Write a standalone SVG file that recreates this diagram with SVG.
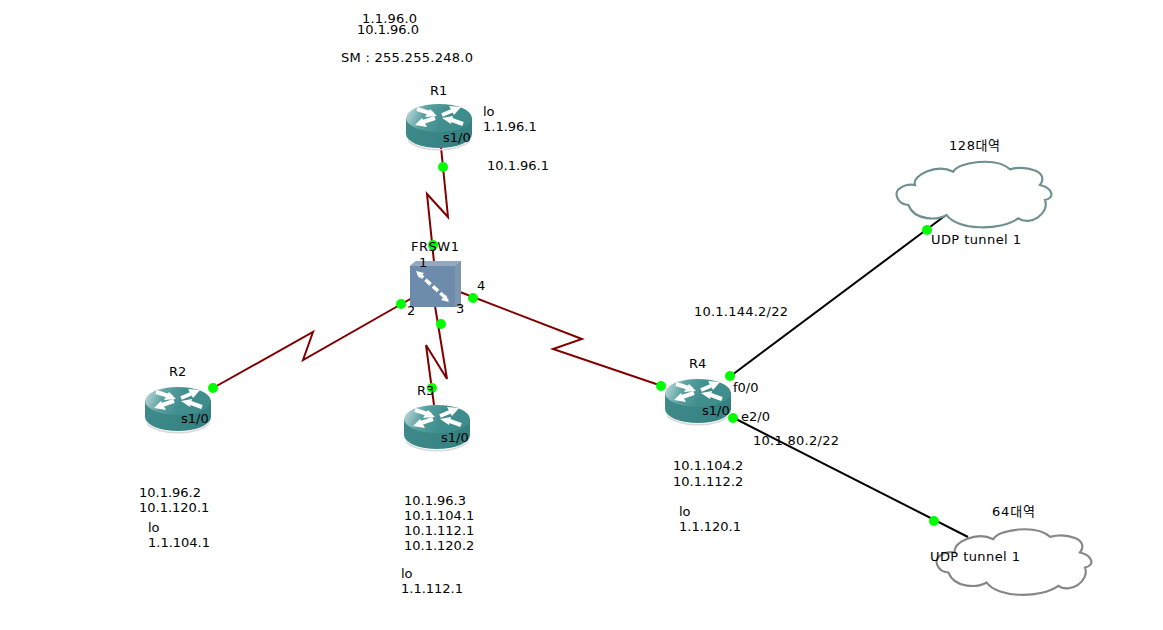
<svg xmlns="http://www.w3.org/2000/svg" width="1163" height="630" viewBox="0 0 1163 630">
<style>
text{font-family:"DejaVu Sans","Noto Sans CJK KR",sans-serif;font-size:13px;fill:#000}
.ser{fill:none;stroke:#800000;stroke-width:2}
.eth{fill:none;stroke:#000;stroke-width:2}
.dot{fill:#00ff00}
.cl{fill:#fff;stroke-width:6.5}
</style>
<defs>
<linearGradient id="top" x1="0" x2="1" y1="0.2" y2="0.4"><stop offset="0" stop-color="#c2dcdc"/><stop offset="0.3" stop-color="#5aa0a0"/><stop offset="0.6" stop-color="#418e8e"/><stop offset="1" stop-color="#3f8c8c"/></linearGradient>
<linearGradient id="side" x1="0" x2="1" y1="0" y2="0"><stop offset="0" stop-color="#3e8a8a"/><stop offset="1" stop-color="#347f7f"/></linearGradient>
<g id="router">
<path d="M-33,0V16A33,14 0 0 0 33,16V0Z" fill="url(#side)"/>
<path d="M-31,21A33,14 0 0 0 31,21" fill="none" stroke="#d8d8d8" stroke-width="1.5" transform="translate(0,1.5)"/>
<ellipse rx="33" ry="14" fill="url(#top)"/>
<g fill="none" stroke="#fff" stroke-width="4">
<path d="M-22,-9L-6,-4"/>
<path d="M3,-3L15,-8"/>
<path d="M-16,4L-4,0"/>
<path d="M10,1L24,6"/>
</g>
<g fill="#fff">
<path d="M-2,-2L-9,-9L-14,-1Z"/>
<path d="M22,-11L10,-12L15,-3Z"/>
<path d="M-24,7L-12,9L-17,0Z"/>
<path d="M3,0L14,-2L12,6Z"/>
</g>
</g>
<path id="cloud" d="M200,255C175,270 105,275 85,225C50,222 40,185 60,175C70,165 90,162 105,165C95,135 170,100 220,125C235,95 350,80 390,118C440,105 510,125 480,165C520,175 525,205 495,210C510,250 450,290 415,265C360,305 230,300 200,255Z"/>
</defs>

<g id="connectors">
<path class="ser" d="M441,147L448,217L427,194L434,262"/>
<path class="ser" d="M213,388L313,332L303,360L412,298"/>
<path class="ser" d="M435,306L447,379L426,345L434,405"/>
<path class="ser" d="M460,292L582,339L553,349L665,387"/>
<path class="eth" d="M728,378L946,215"/>
<path class="eth" d="M732,417L968,537"/>
</g>

<g id="dots">
<circle class="dot" cx="443" cy="167" r="5"/><circle class="dot" cx="433" cy="245" r="5"/>
<circle class="dot" cx="401" cy="304" r="5"/><circle class="dot" cx="213" cy="388" r="5"/>
<circle class="dot" cx="441" cy="324" r="5"/><circle class="dot" cx="432" cy="388" r="5"/>
<circle class="dot" cx="473" cy="298" r="5"/><circle class="dot" cx="661" cy="386" r="5"/>
</g>

<g id="R1"><use href="#router" x="439" y="118"/><text x="430" y="95">R1</text><text x="443" y="142">s1/0</text></g>
<g id="R2"><use href="#router" x="178" y="401"/><text x="169" y="376">R2</text><text x="181" y="423">s1/0</text></g>
<g id="R3"><use href="#router" x="437" y="419"/><text x="417" y="395">R3</text><text x="441" y="442">s1/0</text></g>
<g id="R4"><use href="#router" x="698" y="393"/><text x="689" y="368">R4</text><text x="702" y="415">s1/0</text></g>

<g id="FRSW1">
<path d="M410,266L416,261H461V306L456,307H410Z" fill="#6d8cab"/>
<path d="M455,266L461,261V304L455,307Z" fill="#7f97ae"/>
<path d="M410,266L416,261H461L455,266Z" fill="#94a9bf"/>
<path d="M418,273L448,300" stroke="#fff" stroke-width="3.5" stroke-dasharray="7 3" fill="none"/>
<path d="M416,271L424,273L419,278ZM449,302L441,300L446,295Z" fill="#fff"/>
<text x="411" y="251" textLength="48">FRSW1</text>
</g>

<g id="cloud1"><use href="#cloud" transform="translate(880,130) scale(0.3333)" class="cl" stroke="#6e9090"/><text x="949" y="150" textLength="51">128대역</text></g>
<g id="cloud2"><use href="#cloud" transform="translate(920,497.5) scale(0.3333)" class="cl" stroke="#868686"/><text x="992" y="516" textLength="43">64대역</text></g>

<g id="dots2">
<circle class="dot" cx="730" cy="376" r="5"/><circle class="dot" cx="927" cy="230" r="5"/>
<circle class="dot" cx="733" cy="418" r="5"/><circle class="dot" cx="934" cy="521" r="5"/>
</g>

<g id="labels">
<text x="362" y="23" textLength="55">1.1.96.0</text>
<text x="357" y="34">10.1.96.0</text>
<text x="341" y="62" textLength="132">SM : 255.255.248.0</text>
<text x="483" y="116">lo</text>
<text x="483" y="131">1.1.96.1</text>
<text x="487" y="170">10.1.96.1</text>
<text x="419" y="267">1</text>
<text x="407" y="315">2</text>
<text x="456" y="313">3</text>
<text x="477" y="290">4</text>
<text x="694" y="316" textLength="94">10.1.144.2/22</text>
<text x="733" y="392">f0/0</text>
<text x="741" y="421">e2/0</text>
<text x="753" y="445" textLength="86">10.1.80.2/22</text>
<text x="931" y="244" textLength="90">UDP tunnel 1</text>
<text x="930" y="561" textLength="90">UDP tunnel 1</text>
<text x="673" y="470">10.1.104.2</text>
<text x="673" y="486">10.1.112.2</text>
<text x="679" y="516">lo</text>
<text x="679" y="531">1.1.120.1</text>
<text x="139" y="497">10.1.96.2</text>
<text x="139" y="512">10.1.120.1</text>
<text x="148" y="532">lo</text>
<text x="148" y="547">1.1.104.1</text>
<text x="404" y="505">10.1.96.3</text>
<text x="404" y="520">10.1.104.1</text>
<text x="404" y="535">10.1.112.1</text>
<text x="404" y="550">10.1.120.2</text>
<text x="401" y="578">lo</text>
<text x="401" y="593">1.1.112.1</text>
</g>
</svg>
